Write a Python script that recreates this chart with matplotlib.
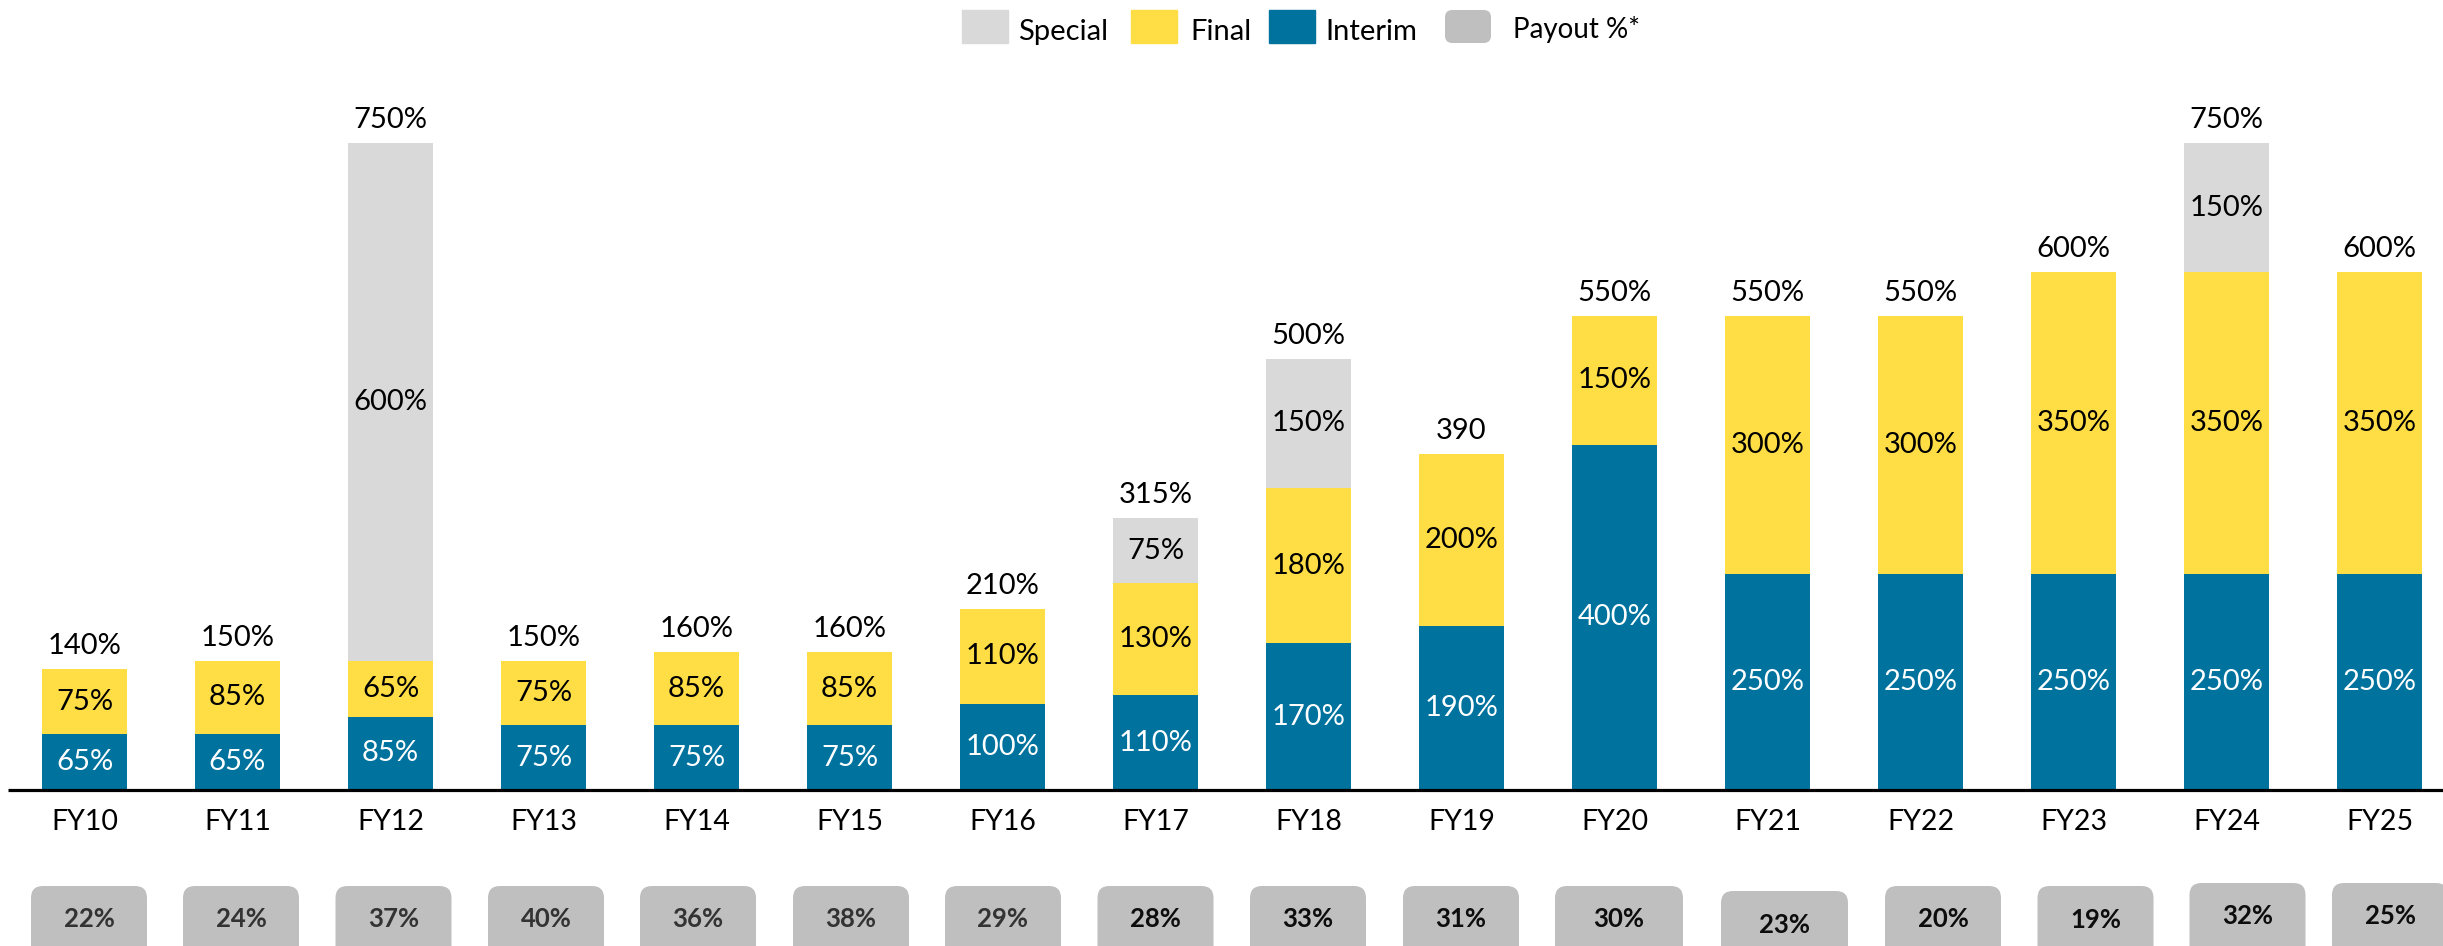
import matplotlib
matplotlib.use("Agg")
import matplotlib.pyplot as plt
from matplotlib.patches import FancyBboxPatch, Rectangle
import numpy as np

plt.rcParams["font.family"] = ["Lato", "DejaVu Sans"]

years = ["FY10", "FY11", "FY12", "FY13", "FY14", "FY15", "FY16", "FY17",
         "FY18", "FY19", "FY20", "FY21", "FY22", "FY23", "FY24", "FY25"]
interim = [65, 65, 85, 75, 75, 75, 100, 110, 170, 190, 400, 250, 250, 250, 250, 250]
final = [75, 85, 65, 75, 85, 85, 110, 130, 180, 200, 150, 300, 300, 350, 350, 350]
special = [0, 0, 600, 0, 0, 0, 0, 75, 150, 0, 0, 0, 0, 0, 150, 0]
total_labels = ["140%", "150%", "750%", "150%", "160%", "160%", "210%", "315%",
                "500%", "390", "550%", "550%", "550%", "600%", "750%", "600%"]
payout = ["22%", "24%", "37%", "40%", "36%", "38%", "29%", "28%",
          "33%", "31%", "30%", "23%", "20%", "19%", "32%", "25%"]

C_INTERIM = "#00729E"
C_FINAL = "#FFDE45"
C_SPECIAL = "#D9D9D9"
C_PAYOUT = "#BFBFBF"

# hand-placed payout boxes in the original (pixel layout, not data)
box_cx = [89, 241, 393.5, 546, 698, 851, 1003, 1155.5, 1308, 1461, 1619,
          1784.5, 1943, 2095.5, 2247.5, 2390]
box_wd = [116] * 10 + [128, 127] + [116] * 4
box_tp = [886] * 11 + [891, 886, 886, 883, 883]
box_ty = [919] * 11 + [925, 919, 920, 916, 916]
box_tc = ["#333333"] * 7 + ["#0d0d0d"] * 9

W, H = 2443, 946
fig = plt.figure(figsize=(W / 100, H / 100), dpi=100)
ax = fig.add_axes([0, 0, 1, 1])

# pixel geometry of the reference -> data units
px_x = 153.0          # px per category
px_y = 647 / 750      # px per percent point
x0_px, base_px = 84.5, 790
ax.set_xlim(-x0_px / px_x, (W - x0_px) / px_x)
ax.set_ylim(-(H - base_px) / px_y, base_px / px_y)
ax.axis("off")

def dx(p):
    return (p - x0_px) / px_x

def dy(p):
    return (base_px - p) / px_y

x = np.arange(len(years))
interim = np.array(interim)
final = np.array(final)
special = np.array(special)
bw = 85 / px_x

ax.bar(x, interim, width=bw, color=C_INTERIM, zorder=2)
ax.bar(x, final, width=bw, bottom=interim, color=C_FINAL, zorder=2)
ax.bar(x, special, width=bw, bottom=interim + final, color=C_SPECIAL, zorder=2)
ax.plot([dx(8), dx(W + 5)], [0, 0], color="black", lw=2.3, zorder=3,
        solid_capstyle="butt")

fs = 21
for i in range(len(years)):
    ax.text(x[i], interim[i] / 2, f"{interim[i]}%", ha="center", va="center",
            color="white", fontsize=fs, zorder=4)
    ax.text(x[i], interim[i] + final[i] / 2, f"{final[i]}%", ha="center",
            va="center", color="black", fontsize=fs, zorder=4)
    if special[i]:
        ax.text(x[i], interim[i] + final[i] + special[i] / 2, f"{special[i]}%",
                ha="center", va="center", color="black", fontsize=fs, zorder=4)
    top = interim[i] + final[i] + special[i]
    ax.text(x[i], top + 10 / px_y, total_labels[i], ha="center", va="bottom",
            color="black", fontsize=fs, zorder=4)
    ax.text(x[i], dy(822), years[i], ha="center", va="center",
            color="black", fontsize=20.5, zorder=4)

# payout boxes along the bottom
r = 12 / px_x
for i in range(len(years)):
    cx = dx(box_cx[i])
    w = box_wd[i] / px_x
    top, bot = dy(box_tp[i]), dy(H + 30)
    box = FancyBboxPatch((cx - w / 2, bot), w, top - bot,
                         boxstyle=f"round,pad=0,rounding_size={r}",
                         mutation_aspect=px_x / px_y,
                         facecolor=C_PAYOUT, edgecolor="none", zorder=2,
                         clip_on=False)
    ax.add_patch(box)
    ax.text(cx, dy(box_ty[i]), payout[i], ha="center", va="center",
            fontsize=18.5, fontweight="bold", color=box_tc[i], zorder=4)

# legend at the top
def fx(p):
    return p / W

def fy(p):
    return 1 - p / H

sw, sh = 46, 33
for left, col, label, tx in [(962, C_SPECIAL, "Special", 1018),
                             (1131, C_FINAL, "Final", 1190),
                             (1269, C_INTERIM, "Interim", 1325)]:
    fig.patches.append(Rectangle((fx(left), fy(10 + sh)), sw / W, sh / H,
                                 color=col, transform=fig.transFigure,
                                 figure=fig))
    fig.text(fx(tx), fy(40), label, ha="left", va="baseline",
             fontsize=21, color="black")
fig.patches.append(FancyBboxPatch((fx(1445), fy(43)), sw / W, sh / H,
                                  boxstyle="round,pad=0,rounding_size=0.003",
                                  mutation_aspect=W / H, facecolor=C_PAYOUT,
                                  edgecolor="none", transform=fig.transFigure,
                                  figure=fig))
fig.text(fx(1513), fy(38), "Payout %*", ha="left", va="baseline", fontsize=20,
         color="black")

fig.savefig("out.png", dpi=100)
